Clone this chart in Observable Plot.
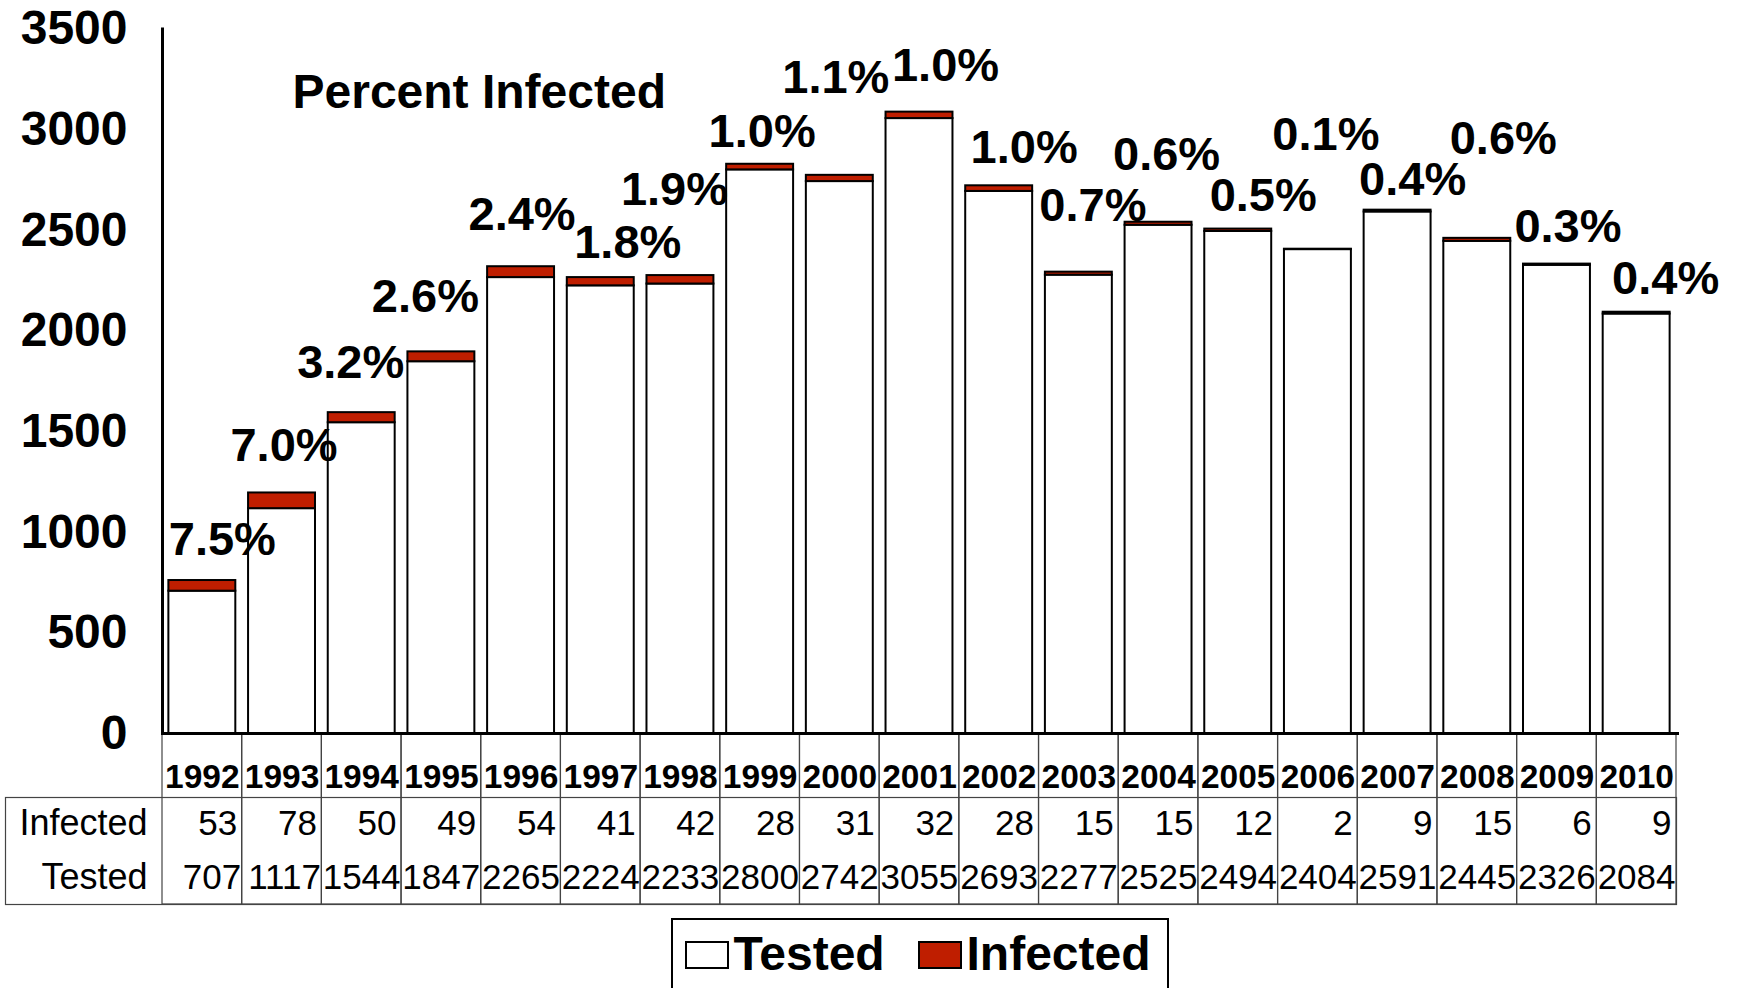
<!DOCTYPE html>
<html>
<head>
<meta charset="utf-8">
<script src="https://cdn.jsdelivr.net/npm/d3@7"></script>
<script src="https://cdn.jsdelivr.net/npm/@observablehq/plot@0.6"></script>
<style>
  html, body { margin: 0; padding: 0; background: #fff; width: 1743px; height: 988px; overflow: hidden; }
  #chart { position: relative; width: 1743px; height: 988px; font-family: "Liberation Sans", Arial, sans-serif; }
  #chart svg { display: block; }
  #legend { position: absolute; left: 671px; top: 918px; width: 498px; height: 100px; border: 2.5px solid #000; box-sizing: border-box; background: #fff; }
  #legend .sw { position: absolute; top: 20.5px; width: 44px; height: 28px; border: 2px solid #000; box-sizing: border-box; }
  #legend .lt { position: absolute; top: 10.5px; font-size: 48px; line-height: 46px; font-weight: bold; color: #000; white-space: nowrap; }
</style>
</head>
<body>
<div id="chart"></div>
<script>
// ---- data ----
const years = [1992, 1993, 1994, 1995, 1996, 1997, 1998, 1999, 2000, 2001, 2002, 2003, 2004, 2005, 2006, 2007, 2008, 2009, 2010];
const tested = [707, 1117, 1544, 1847, 2265, 2224, 2233, 2800, 2742, 3055, 2693, 2277, 2525, 2494, 2404, 2591, 2445, 2326, 2084];
const infected = [53, 78, 50, 49, 54, 41, 42, 28, 31, 32, 28, 15, 15, 12, 2, 9, 15, 6, 9];
const percentLabels = ["7.5%", "7.0%", "3.2%", "2.6%", "2.4%", "1.8%", "1.9%", "1.0%", "1.1%", "1.0%", "1.0%", "0.7%", "0.6%", "0.5%", "0.1%", "0.4%", "0.6%", "0.3%", "0.4%"];
const yTicks = [0, 500, 1000, 1500, 2000, 2500, 3000, 3500];
const seriesNames = ["Tested", "Infected"];
const rowLabels = ["Infected", "Tested"];
const annotation = "Percent Infected";

// ---- layout (pixel nudges of the hand-placed percent labels) ----
const labelDx = [20, 2, -11, -16, 1, 27, -6, 2, -4, 26, 25, 14, 8, 25, 8, 15, 26, 11, 29];
const labelDy = [-41, -47, -50, -55, -52, -35, -86, -32, -97, -46, -38, -66, -67, -33, -114, -30, -99, -37, -33];

const FONT = '"Liberation Sans", Arial, sans-serif';
const RED = "#BF1E00";
const W = 1743, H = 912;
const mL = 162, mR = 67, mT = 28.5, mB = H - 733;
const step = (W - mL - mR) / years.length;
const barInset = step * 0.08;
const frameH = H - mT - mB;
const tableBottom = 171;   // px below baseline
const rowLine = 64;        // px below baseline

const rows = years.map((y, i) => ({
  year: String(y), tested: tested[i], infected: infected[i],
  total: tested[i] + infected[i], pct: percentLabels[i]
}));

const labelMarks = rows.map((r, i) => Plot.text([r], {
  x: "year", y: "total", text: "pct", dx: labelDx[i], dy: labelDy[i],
  lineAnchor: "middle", textAnchor: "middle",
  fontSize: 47, fontWeight: "bold", fontFamily: FONT, fill: "#000"
}));

const plot = Plot.plot({
  width: W, height: H,
  marginLeft: mL, marginRight: mR, marginTop: mT, marginBottom: mB,
  style: { background: "#fff", fontFamily: FONT, fontSize: "48px", fontWeight: "bold", color: "#000" },
  x: { type: "band", domain: years.map(String), padding: 0, round: false, axis: null },
  y: { domain: [0, 3500], ticks: yTicks, tickFormat: "d", tickSize: 0, tickPadding: 35, label: null, grid: false },
  marks: [
    // table grid
    Plot.cell(rows, { x: "year", fill: "none", stroke: "#444", strokeWidth: 1.2,
      insetTop: frameH, insetBottom: -tableBottom }),
    Plot.frame({ stroke: "#444", strokeWidth: 1.2, insetLeft: -(mL - 5), insetTop: frameH + rowLine, insetBottom: -tableBottom }),
    // bars
    Plot.barY(rows, { x: "year", y1: 0, y2: "tested", fill: "#fff", stroke: "#000", strokeWidth: 2,
      insetLeft: barInset, insetRight: barInset }),
    Plot.barY(rows, { x: "year", y1: "tested", y2: "total", fill: RED, stroke: "#000", strokeWidth: 2,
      insetLeft: barInset, insetRight: barInset }),
    // axes lines
    Plot.frame({ anchor: "left", stroke: "#000", strokeWidth: 3 }),
    Plot.ruleY([0], { stroke: "#000", strokeWidth: 3, insetRight: -3 }),
    // percent labels
    ...labelMarks,
    Plot.text([annotation], { frameAnchor: "top-left", dx: 130, dy: 64, lineAnchor: "middle", textAnchor: "start",
      fontSize: 48, fontWeight: "bold", fontFamily: FONT, fill: "#000" }),
    // table text
    Plot.text(rows, { x: "year", text: "year", frameAnchor: "bottom", dy: 44, lineAnchor: "middle", textAnchor: "middle",
      fontSize: 33.5, fontWeight: "bold", fontFamily: FONT, fill: "#000" }),
    Plot.text(rows, { x: "year", text: d => String(d.infected), frameAnchor: "bottom", dx: step / 2 - 5, dy: 90,
      lineAnchor: "middle", textAnchor: "end", fontSize: 35, fontWeight: "normal", fontFamily: FONT, fill: "#000" }),
    Plot.text(rows, { x: "year", text: d => String(d.tested), frameAnchor: "bottom", dx: step / 2 - 1, dy: 144,
      lineAnchor: "middle", textAnchor: "end", fontSize: 35, fontWeight: "normal", fontFamily: FONT, fill: "#000" }),
    Plot.text([rowLabels[0]], { frameAnchor: "bottom-left", dx: -15, dy: 90, lineAnchor: "middle", textAnchor: "end",
      fontSize: 36, fontWeight: "normal", fontFamily: FONT, fill: "#000" }),
    Plot.text([rowLabels[1]], { frameAnchor: "bottom-left", dx: -15, dy: 144, lineAnchor: "middle", textAnchor: "end",
      fontSize: 36, fontWeight: "normal", fontFamily: FONT, fill: "#000" })
  ]
});

const chart = document.getElementById("chart");
chart.appendChild(plot);

// legend below the plot
const legend = document.createElement("div");
legend.id = "legend";
const swFill = ["#fff", RED];
const swLeft = [11.5, 244.5];
const txtLeft = [60.5, 293.5];
seriesNames.forEach((name, i) => {
  const sw = document.createElement("span");
  sw.className = "sw";
  sw.style.left = swLeft[i] + "px";
  sw.style.background = swFill[i];
  legend.appendChild(sw);
  const t = document.createElement("span");
  t.className = "lt";
  t.style.left = txtLeft[i] + "px";
  t.textContent = name;
  legend.appendChild(t);
});
chart.appendChild(legend);
</script>
</body>
</html>
